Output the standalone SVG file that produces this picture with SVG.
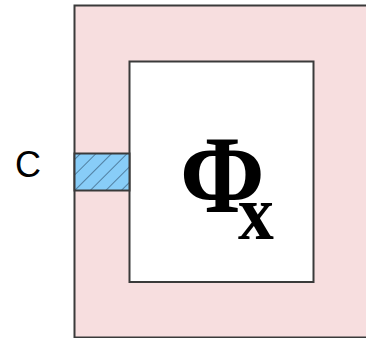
<svg xmlns="http://www.w3.org/2000/svg" width="366" height="338" viewBox="0 0 366 338">
<style>
.box{stroke:#3a3a3a;stroke-width:2}
.lbl{font-family:"Liberation Sans",Arial,sans-serif;font-size:36px;fill:#000}
.sym{font-family:"Liberation Serif","Times New Roman",serif;font-weight:bold;fill:#000}
</style>
<defs>
<pattern id="hatch" patternUnits="userSpaceOnUse" width="11" height="11" patternTransform="rotate(45)">
<rect width="11" height="11" fill="#88CDF8"/>
<line x1="0" y1="0" x2="0" y2="11" stroke="#2a4a66" stroke-width="1.2"/>
</pattern>
</defs>
<g id="outer">
<rect class="box" x="74.5" y="5.5" width="300" height="332" fill="#F7DEDF"/>
</g>
<g id="inner">
<rect class="box" x="129.5" y="61.5" width="184" height="220.5" fill="#FFFFFF"/>
<g transform="translate(180,212) scale(0.92,1)">
<text class="sym" x="0" y="0" font-size="111">Φ<tspan font-size="78" dx="-29" dy="27">x</tspan></text>
</g>
</g>
<g id="port">
<rect class="box" x="74.5" y="153.5" width="55" height="37" fill="url(#hatch)"/>
</g>
<g id="label">
<text class="lbl" x="15" y="177">C</text>
</g>
<g id="connectors"/>
</svg>
